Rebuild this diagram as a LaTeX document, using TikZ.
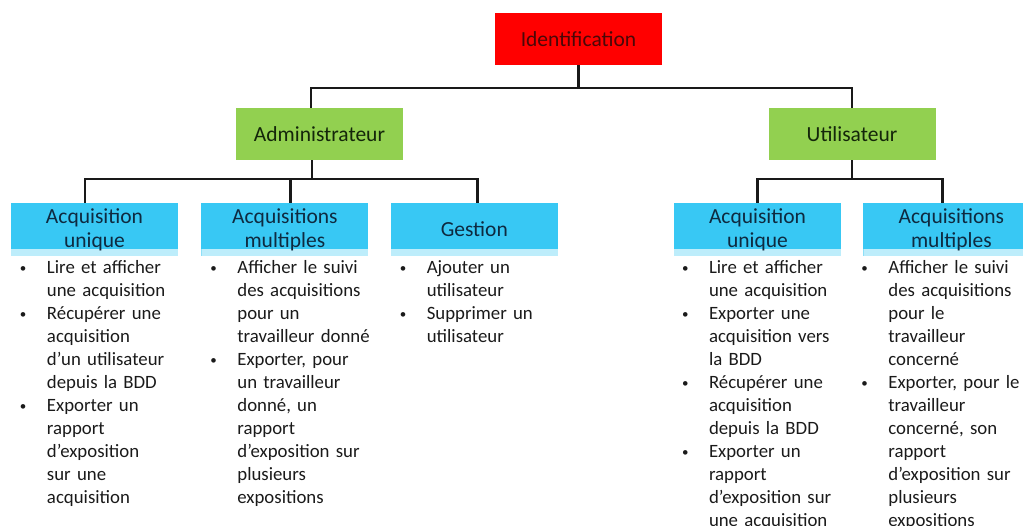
\documentclass[tikz,border=0pt]{standalone}
\usepackage{fontspec}
\setmainfont{Carlito}
\usepackage{tikz}
\usetikzlibrary{positioning}
\definecolor{idRed}{HTML}{FF0000}
\definecolor{roleGreen}{HTML}{92D050}
\definecolor{taskBlue}{HTML}{38C8F4}
\definecolor{taskStrip}{HTML}{BDEDFB}
\definecolor{txtRed}{HTML}{4A0808}
\definecolor{txtGreen}{HTML}{14260A}
\definecolor{txtBlue}{HTML}{0E2A40}
\definecolor{txtBody}{HTML}{1A1A1A}
\newcommand{\headfont}{\fontsize{21.5}{24}\selectfont}
\newcommand{\bodyfont}{\fontsize{18.8}{23}\selectfont}
\newcommand{\bul}[1]{\par\begingroup\let\\\newline\noindent\hangindent=28pt\hangafter=1%
  \makebox[28pt][l]{\hspace{1pt}\raisebox{1pt}{\fontsize{13}{13}\selectfont\textbullet}}#1\par\endgroup}

\begin{document}
\begin{tikzpicture}[
    x=1pt, y=-1pt,
    node distance=23pt,
    rootbox/.style={rectangle, fill=idRed, minimum width=167pt, minimum height=52pt, inner sep=2pt, font=\headfont, text=txtRed},
    rolebox/.style={rectangle, fill=roleGreen, minimum width=167pt, minimum height=52pt, inner sep=2pt, font=\headfont, text=txtGreen},
    taskbox/.style={rectangle, fill=taskBlue, minimum width=167pt, minimum height=53pt, inner sep=2pt, align=center, font=\headfont, text=txtBlue,
        path picture={\fill[taskStrip] ([yshift=7pt]path picture bounding box.south west) rectangle (path picture bounding box.south east);}},
    bodytext/.style={anchor=north west, inner sep=0pt, text width=175pt, font=\bodyfont\raggedright, text=txtBody},
    conn/.style={line width=2.4pt, black!90}
]
\useasboundingbox (0,0) rectangle (1023,526);

% Top level
\node[rootbox] (ident) at (578.5,39) {Identification};
\node[rolebox] (admin) at (319.5,134) {Administrateur};
\node[rolebox] (user) at (852,134) {Utilisateur};

\draw[conn] (ident.south) -- ++(0,23) coordinate (j0);
\draw[conn] ([xshift=-8.5pt]admin.north) |- (j0) -| (user.north);

% Administrateur branch
\node[taskbox] (a1) at (94.5,229.5) {Acquisition\\unique};
\node[taskbox, right=of a1] (a2) {Acquisitions\\multiples};
\node[taskbox, right=22pt of a2] (a3) {Gestion};

\draw[conn] ([xshift=-7.5pt]admin.south) -- ++(0,19) coordinate (j1);
\draw[conn] ([xshift=-9.5pt]a1.north) |- (j1) -| ([xshift=3pt]a3.north);
\coordinate (a2top) at ([xshift=5.5pt]a2.north);
\draw[conn] (a2top) -- (a2top |- j1);

\node[bodytext] (a1txt) at ([xshift=8pt, yshift=6pt]a1.south west) {
\bul{Lire et afficher\\une acquisition}
\bul{Récupérer une\\acquisition\\d’un utilisateur\\depuis la BDD}
\bul{Exporter un\\rapport\\d’exposition\\sur une\\acquisition}
};
\node[bodytext] (a2txt) at ([xshift=8pt, yshift=6pt]a2.south west) {
\bul{Afficher le suivi\\des acquisitions\\pour un\\travailleur donné}
\bul{Exporter, pour\\un travailleur\\donné, un\\rapport\\d’exposition sur\\plusieurs\\expositions}
};
\node[bodytext] (a3txt) at ([xshift=8pt, yshift=6pt]a3.south west) {
\bul{Ajouter un\\utilisateur}
\bul{Supprimer un\\utilisateur}
};

% Utilisateur branch
\node[taskbox] (u1) at (757.5,229.5) {Acquisition\\unique};
\node[taskbox, minimum width=176pt, right=22pt of u1] (u2) {Acquisitions\\multiples};

\draw[conn] (user.south) -- ++(0,19) coordinate (j2);
\draw[conn] (u1.north) |- (j2) -| ([xshift=-9pt]u2.north);

\node[bodytext] (u1txt) at ([xshift=7pt, yshift=6pt]u1.south west) {
\bul{Lire et afficher\\une acquisition}
\bul{Exporter une\\acquisition vers\\la BDD}
\bul{Récupérer une\\acquisition\\depuis la BDD}
\bul{Exporter un\\rapport\\d’exposition sur\\une acquisition}
};
\node[bodytext] (u2txt) at ([xshift=-3pt, yshift=6pt]u2.south west) {
\bul{Afficher le suivi\\des acquisitions\\pour le\\travailleur\\concerné}
\bul{Exporter, pour le\\travailleur\\concerné, son\\rapport\\d’exposition sur\\plusieurs\\expositions}
};

\end{tikzpicture}
\end{document}
